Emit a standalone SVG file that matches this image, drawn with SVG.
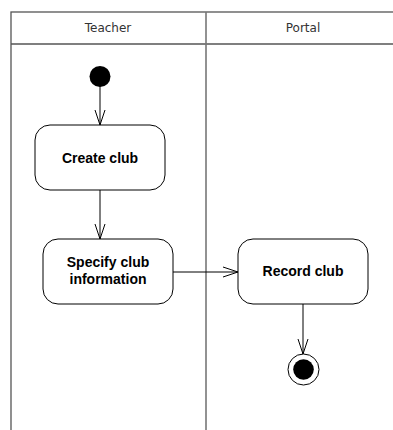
<svg xmlns="http://www.w3.org/2000/svg" width="393" height="430" viewBox="0 0 393 430">
<style>
.lane{fill:none;stroke:#555;stroke-width:1.3}
.div{stroke:#777;stroke-width:1.6}
.hdr{font-family:"DejaVu Sans",sans-serif;font-size:12px;fill:#333;text-anchor:middle}
.act{fill:#fff;stroke:#000;stroke-width:1}
.lbl{font-family:"Liberation Sans",Arial,sans-serif;font-size:14px;font-weight:bold;fill:#000;text-anchor:middle}
.edge{fill:none;stroke:#000;stroke-width:1}
</style>
<defs>
<marker id="open" markerWidth="16" markerHeight="12" refX="15" refY="6" orient="auto" markerUnits="userSpaceOnUse">
<path d="M0,1 L15,6 L0,11" fill="none" stroke="#000" stroke-width="1"/>
</marker>
</defs>
<rect width="393" height="430" fill="#fff"/>
<g id="swimlanes">
<rect class="lane" x="11" y="12" width="400" height="430"/>
<line class="lane" x1="11" y1="44" x2="400" y2="44"/>
<line class="div" x1="206" y1="12" x2="206" y2="430"/>
<text class="hdr" x="108" y="32">Teacher</text>
<text class="hdr" x="303" y="32">Portal</text>
</g>
<g id="connectors">
<line class="edge" x1="100" y1="86" x2="100" y2="125" marker-end="url(#open)"/>
<line class="edge" x1="100" y1="190" x2="100" y2="239" marker-end="url(#open)"/>
<line class="edge" x1="173" y1="272" x2="238" y2="272" marker-end="url(#open)"/>
<line class="edge" x1="303" y1="304" x2="303" y2="354" marker-end="url(#open)"/>
</g>
<g id="start">
<circle cx="100" cy="76.5" r="10.5" fill="#000"/>
</g>
<g id="create-club">
<rect class="act" x="35" y="125" width="130" height="65" rx="15"/>
<text class="lbl" x="100" y="162.5">Create club</text>
</g>
<g id="specify-club">
<rect class="act" x="43" y="239" width="130" height="65" rx="15"/>
<text class="lbl" x="108" y="267">Specify club</text>
<text class="lbl" x="108" y="284">information</text>
</g>
<g id="record-club">
<rect class="act" x="238" y="239" width="130" height="65" rx="15"/>
<text class="lbl" x="303" y="276">Record club</text>
</g>
<g id="end">
<circle cx="303.5" cy="369.5" r="15.5" fill="#fff" stroke="#000" stroke-width="1"/>
<circle cx="303.5" cy="369.5" r="10.3" fill="#000"/>
</g>
</svg>
